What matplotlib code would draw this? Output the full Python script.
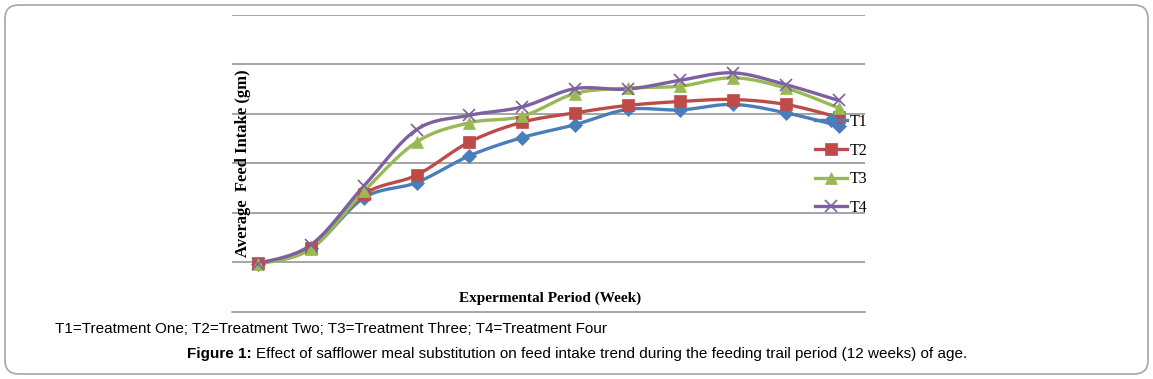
import numpy as np
import matplotlib
matplotlib.use("Agg")
import matplotlib.pyplot as plt
from matplotlib.patches import FancyBboxPatch

# Weekly average feed intake per treatment (grid step = 100)
weeks = list(range(1, 13))
t1 = [-3, 28, 130, 161, 215, 252, 278, 309, 308, 319, 302, 276]
t2 = [-2, 29, 137, 176, 243, 283, 302, 317, 325, 329, 319, 293]
t3 = [-4, 27, 143, 243, 282, 295, 341, 352, 356, 373, 352, 312]
t4 = [-3, 35, 154, 268, 297, 314, 351, 350, 368, 383, 359, 327]
series_names = ["T1", "T2", "T3", "T4"]

colors = ["#4a7ebb", "#be4b48", "#98b954", "#7d60a0"]
markers = ["D", "s", "^", "x"]
msizes = [7, 9, 9, 9]


def smooth(x, y, n=20):
    # Excel-like smoothed line (Catmull-Rom bezier between points)
    x = np.asarray(x, float)
    y = np.asarray(y, float)
    xs, ys = [], []
    for i in range(len(x) - 1):
        p0 = np.array([x[max(i - 1, 0)], y[max(i - 1, 0)]])
        p1 = np.array([x[i], y[i]])
        p2 = np.array([x[i + 1], y[i + 1]])
        p3 = np.array([x[min(i + 2, len(x) - 1)], y[min(i + 2, len(x) - 1)]])
        c1 = p1 + (p2 - p0) / 6
        c2 = p2 - (p3 - p1) / 6
        t = np.linspace(0, 1, n)[:, None]
        pts = ((1 - t) ** 3) * p1 + 3 * ((1 - t) ** 2) * t * c1 + 3 * (1 - t) * t ** 2 * c2 + t ** 3 * p2
        xs.extend(pts[:, 0])
        ys.extend(pts[:, 1])
    return xs, ys


fig = plt.figure(figsize=(11.53, 3.79), dpi=100)

# outer rounded frame
frame = FancyBboxPatch((5 / 1153, 5 / 379), 1143 / 1153, 369 / 379,
                       boxstyle="round,pad=0,rounding_size=0.012",
                       transform=fig.transFigure, fill=False,
                       edgecolor="#a6a6a6", linewidth=1.2, mutation_aspect=3.0)
fig.patches.append(frame)

ax = fig.add_axes([232 / 1153, 1 - 312 / 379, 633 / 1153, 297 / 379])
ax.set_xlim(0.5, 12.5)
ax.set_ylim(-101, 500)

for v in range(0, 501, 100):
    ax.axhline(v, color="#8c8c8c", linewidth=1.1, zorder=1)

all_series = [t1, t2, t3, t4]
for name, vals, c, m, ms in zip(series_names, all_series, colors, markers, msizes):
    sx, sy = smooth(weeks, vals)
    ax.plot(sx, sy, color=c, linewidth=2.4, zorder=3)
    ax.plot(weeks, vals, linestyle="none", marker=m, color=c, markersize=ms,
            markeredgewidth=1.2 if m == "x" else 0.5, zorder=4)

handles = [plt.Line2D([], [], color=c, marker=m, markersize=ms, linewidth=2.4,
                      markeredgewidth=1.2 if m == "x" else 0.5)
           for c, m, ms in zip(colors, markers, msizes)]
leg = ax.legend(handles, series_names, loc="upper left",
                bbox_to_anchor=(807 / 1153, 1 - 106 / 379), bbox_transform=fig.transFigure,
                frameon=False, prop={"family": "Liberation Serif", "size": 11.5},
                handlelength=2.0, handletextpad=0.15, labelspacing=0.79, borderpad=0)
leg.set_zorder(5)

ax.set_xticks([])
ax.set_yticks([])
for s in ["top", "left", "right"]:
    ax.spines[s].set_visible(False)
ax.spines["bottom"].set_color("#8c8c8c")
ax.spines["bottom"].set_linewidth(1.1)

fig.text(243 / 1153, 1 - 163 / 379, "Average  Feed Intake (gm)", rotation=90,
         ha="center", va="center", family="Liberation Serif", weight="bold", fontsize=12)
fig.text(550 / 1153, 1 - 298 / 379, "Expermental Period (Week)",
         ha="center", va="center", family="Liberation Serif", weight="bold", fontsize=11)

fig.text(55 / 1153, 1 - 329 / 379,
         "T1=Treatment One; T2=Treatment Two; T3=Treatment Three; T4=Treatment Four",
         ha="left", va="center", family="Liberation Sans", fontsize=11)
t = fig.text(187 / 1153, 1 - 354 / 379, "Figure 1:", ha="left", va="center",
             family="Liberation Sans", weight="bold", fontsize=11)
fig.canvas.draw()
bb = t.get_window_extent()
fig.text(bb.x1 / fig.bbox.width + 4 / 1153, 1 - 354 / 379,
         "Effect of safflower meal substitution on feed intake trend during the feeding trail period (12 weeks) of age.",
         ha="left", va="center", family="Liberation Sans", fontsize=11)

fig.savefig("out.png", dpi=100)
